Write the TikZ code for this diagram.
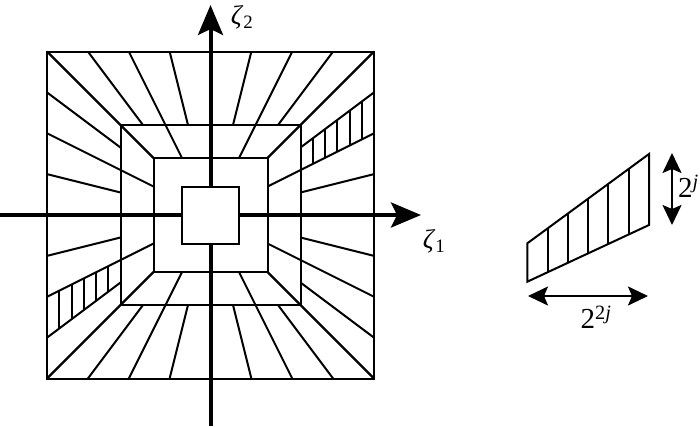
\documentclass[tikz,border=0pt]{standalone}
\usepackage{fontspec}
\setmainfont{Liberation Serif}
\usetikzlibrary{arrows.meta,calc}
\begin{document}
\begin{tikzpicture}[x=1pt,y=-1pt,
  gl/.style={line width=2pt, line join=miter},
  axisline/.style={line width=4pt, -{Stealth[length=30pt,width=25pt,inset=6pt]}},
  dimarrow/.style={line width=2pt, {Stealth[length=20pt,width=19pt,inset=4pt]}-{Stealth[length=20pt,width=19pt,inset=4pt]}},
  lab/.style={inner sep=0pt, font=\fontsize{27}{31}\selectfont},
  dimlab/.style={inner sep=0pt, font=\fontsize{29}{33}\selectfont}]
\useasboundingbox (0,0) rectangle (700,426);
\def\A{163.5}\def\B{90}\def\C{57}\def\D{28.5}
% ---------- main pseudo-polar grid ----------
\begin{scope}[shift={(210.5,215)}]
  \foreach \r in {0,90,180,270}{
    \begin{scope}[rotate=\r]
      \foreach \t in {-4,-3,-2,-1,1,2,3,4}
        \draw[gl] (\t*\A/4,-\A) -- (\t*\B/4,-\B);
      \foreach \t in {-4,-2,2,4}
        \draw[gl] (\t*\B/4,-\B) -- (\t*\C/4,-\C);
    \end{scope}}
  \draw[gl] (-\A,-\A) rectangle (\A,\A);
  \draw[gl] (-\B,-\B) rectangle (\B,\B);
  \draw[gl] (-\C,-\C) rectangle (\C,\C);
  % hatched wedges
  \foreach \k in {1,...,5}{
    \pgfmathsetmacro{\xx}{\B+\k*(\A-\B)/6}
    \draw[gl] (\xx,-0.5*\xx) -- (\xx,-0.75*\xx);
    \draw[gl] (-\xx,0.5*\xx) -- (-\xx,0.75*\xx);
  }
\end{scope}
% ---------- axes ----------
\coordinate (hstart) at (0,215);
\coordinate (hend) at (421,215);
\coordinate (vstart) at (210.5,426);
\coordinate (vend) at (210.5,5);
\draw[axisline] (hstart) -- (hend);
\draw[axisline] (vstart) -- (vend);
\draw[gl, fill=white] (210.5-\D,215-\D) rectangle (210.5+\D,215+\D);
\node[lab] (z1) at (434,241) {\textit{ζ}\textsubscript{1}};
\node[lab] (z2) at (242,17) {\textit{ζ}\textsubscript{2}};
% ---------- single wedge on the right ----------
\coordinate (wbl) at (527.3,281.7);
\coordinate (wtl) at (527.3,243.3);
\coordinate (wtr) at (649,154);
\coordinate (wbr) at (649,225);
\draw[gl] (wbl) -- (wtl) -- (wtr) -- (wbr) -- cycle;
\foreach \k in {1,...,5}{
  \draw[gl] ($(wtl)!\k/6!(wtr)$) -- ($(wbl)!\k/6!(wbr)$);
}
\coordinate (vt) at (672,153);
\coordinate (vb) at (672,225);
\draw[dimarrow] (vt) -- (vb);
\coordinate (hl) at (528,296);
\coordinate (hr) at (648,296);
\draw[dimarrow] (hl) -- (hr);
\node[dimlab, anchor=west] (lj) at (678,186) {2\textsuperscript{\textit{j}}};
\node[dimlab] (l2j) at (596,317) {2\textsuperscript{2\textit{j}}};
\end{tikzpicture}
\end{document}
